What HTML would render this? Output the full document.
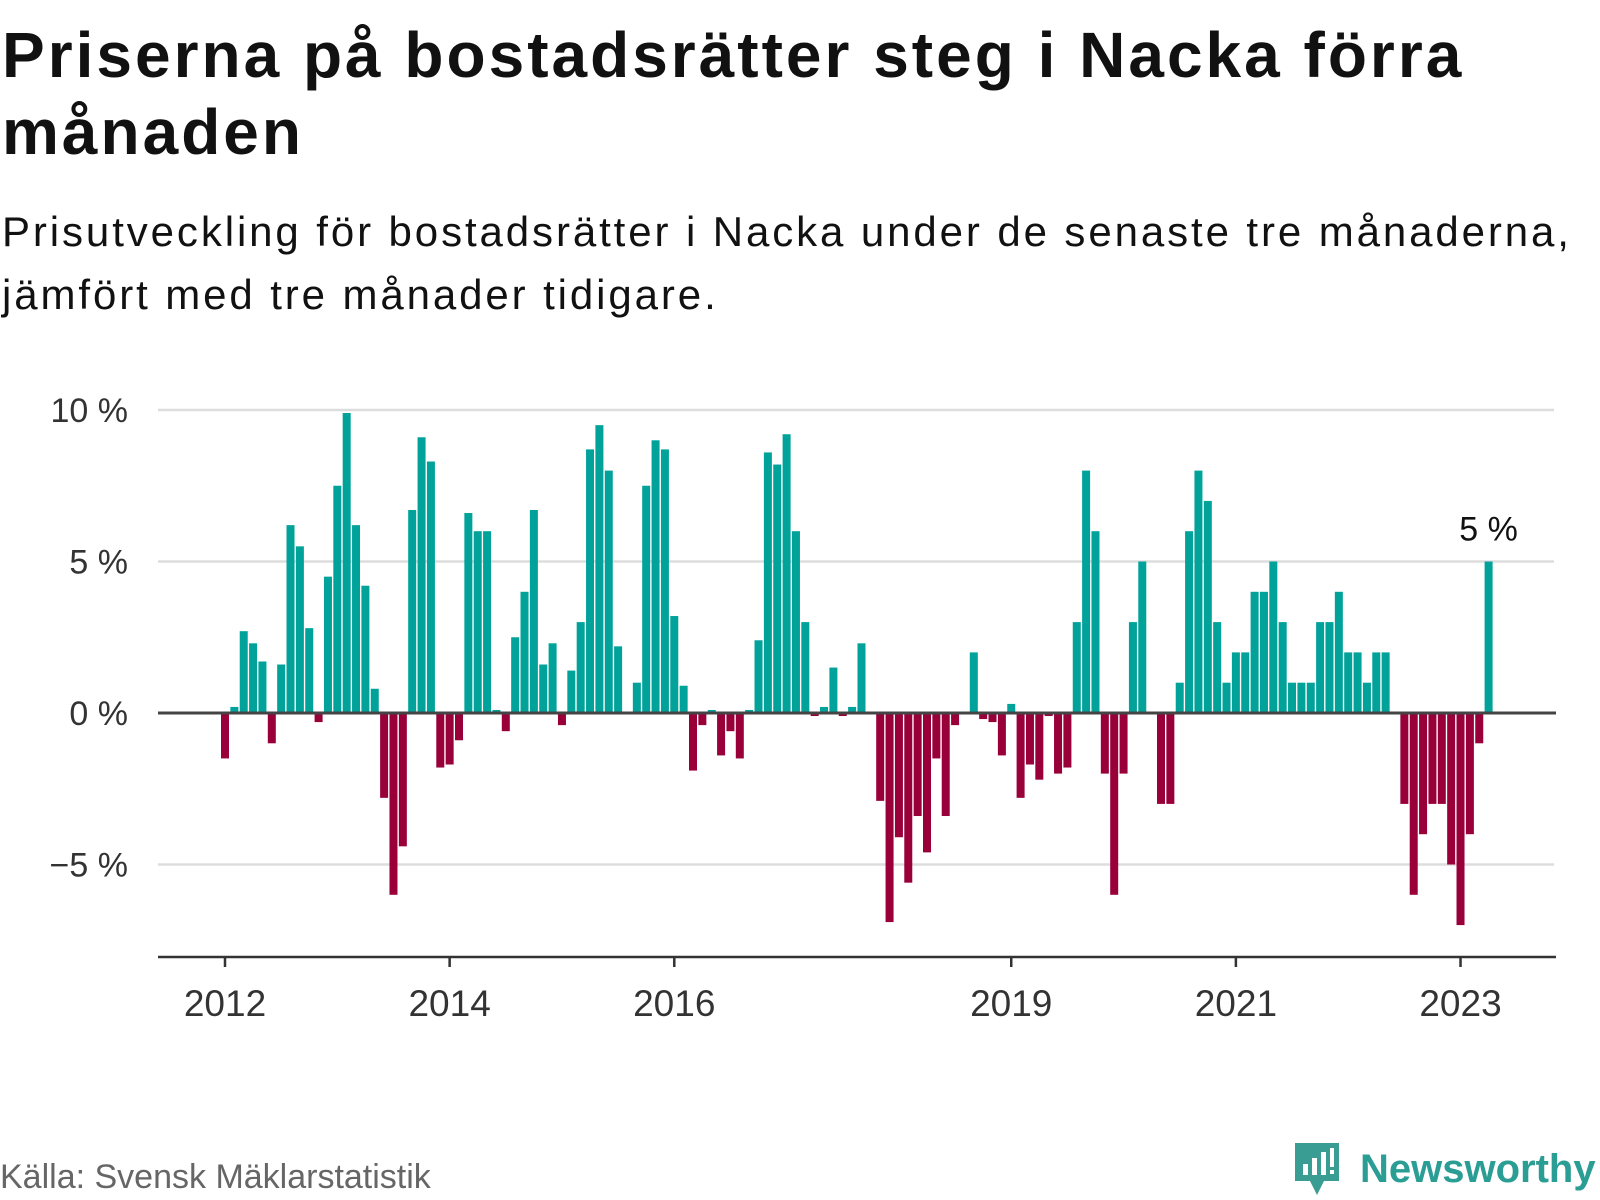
<!DOCTYPE html>
<html><head><meta charset="utf-8">
<style>
html,body{margin:0;padding:0;background:#fff;}
body{width:1600px;height:1200px;position:relative;overflow:hidden;font-family:"Liberation Sans",sans-serif;}
#title{position:absolute;left:2px;top:17px;font-size:64px;letter-spacing:3px;font-weight:bold;line-height:77px;color:#111;margin:0;width:1598px;}
#subtitle{position:absolute;left:2px;top:200px;font-size:42px;letter-spacing:2.9px;line-height:63px;color:#111;margin:0;width:1598px;}
#source{position:absolute;left:0;top:1158px;font-size:34px;color:#666;}
#logo{position:absolute;left:1292px;top:1140px;display:flex;align-items:center;}
#logo span{font-size:40px;font-weight:bold;color:#2a9d94;margin-left:18px;}
svg text{font-family:"Liberation Sans",sans-serif;}
</style></head><body>
<h1 id="title">Priserna på bostadsrätter steg i Nacka förra månaden</h1>
<p id="subtitle">Prisutveckling för bostadsrätter i Nacka under de senaste tre månaderna, jämfört med tre månader tidigare.</p>
<svg id="chart" width="1600" height="1200" style="position:absolute;left:0;top:0"></svg>
<div id="source">Källa: Svensk Mäklarstatistik</div>
<div id="logo">
<svg width="50" height="58" viewBox="0 0 50 58"><path d="M3 3h44v38H32l-7 14-7-14H3z" fill="#3a9d94"/><rect x="11" y="24" width="5" height="11" fill="#fff"/><rect x="20" y="18" width="5" height="17" fill="#fff"/><rect x="29" y="12" width="5" height="23" fill="#fff"/><rect x="38" y="8" width="4" height="19" fill="#fff"/><rect x="38" y="30" width="4" height="4" fill="#fff"/></svg>
<span>Newsworthy</span></div>
<script>
const values = [-1.5,0.2,2.7,2.3,1.7,-1.0,1.6,6.2,5.5,2.8,-0.3,4.5,
7.5,9.9,6.2,4.2,0.8,-2.8,-6.0,-4.4,6.7,9.1,8.3,-1.8,
-1.7,-0.9,6.6,6.0,6.0,0.1,-0.6,2.5,4.0,6.7,1.6,2.3,
-0.4,1.4,3.0,8.7,9.5,8.0,2.2,0,1.0,7.5,9.0,8.7,
3.2,0.9,-1.9,-0.4,0.1,-1.4,-0.6,-1.5,0.1,2.4,8.6,8.2,
9.2,6.0,3.0,-0.1,0.2,1.5,-0.1,0.2,2.3,0,-2.9,-6.9,
-4.1,-5.6,-3.4,-4.6,-1.5,-3.4,-0.4,0,2.0,-0.2,-0.3,-1.4,
0.3,-2.8,-1.7,-2.2,-0.1,-2.0,-1.8,3.0,8.0,6.0,-2.0,-6.0,
-2.0,3.0,5.0,0,-3.0,-3.0,1.0,6.0,8.0,7.0,3.0,1.0,
2.0,2.0,4.0,4.0,5.0,3.0,1.0,1.0,1.0,3.0,3.0,4.0,
2.0,2.0,1.0,2.0,2.0,0,-3.0,-6.0,-4.0,-3.0,-3.0,-5.0,
-7.0,-4.0,-1.0,5.0];
const yTicks = [-5,0,5,10];
const yTickLabels = ["\u22125 %","0 %","5 %","10 %"];
const xTickYears = [2012,2014,2016,2019,2021,2023];
const startYear = 2012;
const lastLabel = "5 %";

const svg = document.getElementById('chart');
const NS = 'http://www.w3.org/2000/svg';
const X0 = 225, MONTH = 9.36, Y0 = 713, PER = 30.3;
const x = m => X0 + m*MONTH;
const y = v => Y0 - v*PER;
function mk(tag, attrs, parent){const e=document.createElementNS(NS,tag);for(const k in attrs)e.setAttribute(k,attrs[k]);(parent||svg).appendChild(e);return e;}

yTicks.forEach((t,i)=>{
  if(t!==0){const g=mk('line',{x1:158,x2:1554,y1:y(t),y2:y(t),stroke:'#dddddd','stroke-width':2.5});
  
  }
  const tx=mk('text',{x:128,y:y(t)+12,'text-anchor':'end','font-size':34,fill:'#333'});
  tx.textContent=yTickLabels[i];
  
  
});
values.forEach((v,m)=>{
  if(v===0) return;
  const top=Math.min(y(v),Y0), h=Math.abs(y(v)-Y0);
  const r=mk('rect',{x:x(m)-4,y:top,width:8,height:h,fill:v>0?'#00a29a':'#99003a'});
  
  
});
const zl=mk('line',{x1:158,x2:1556,y1:Y0,y2:Y0,stroke:'#444','stroke-width':3});


const ax=mk('line',{x1:158,x2:1556,y1:957,y2:957,stroke:'#333','stroke-width':2.5});


xTickYears.forEach(yr=>{
  const xx=x((yr-startYear)*12);
  const tk=mk('line',{x1:xx,x2:xx,y1:957,y2:967,stroke:'#333','stroke-width':2.5});
  
  
  const t=mk('text',{x:xx,y:1016,'text-anchor':'middle','font-size':37,fill:'#333'});
  t.textContent=yr;
  
  
});
const li=values.length-1;
const lab=mk('text',{x:x(li),y:y(values[li])-21,'text-anchor':'middle','font-size':34,fill:'#111'});
lab.textContent=lastLabel;


</script>
</body></html>
